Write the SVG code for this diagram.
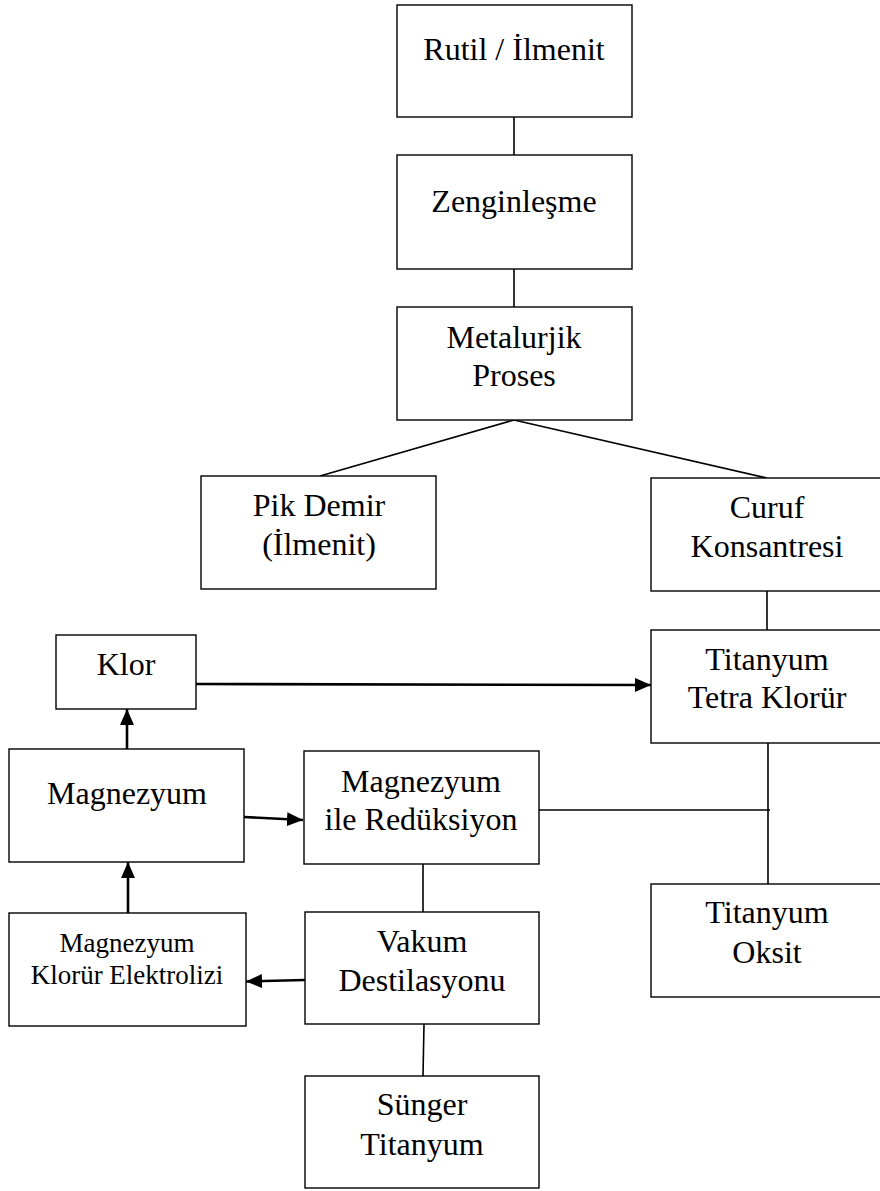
<svg xmlns="http://www.w3.org/2000/svg" width="880" height="1191" viewBox="0 0 880 1191">
<style>
.box{fill:#fff;stroke:#000;stroke-width:1.4}
text{font-family:'Liberation Serif','Times New Roman',serif;font-size:32px;text-anchor:middle;fill:#000}
text.s{font-size:27px}
.c{stroke:#000;stroke-width:1.6;fill:none}
.a{stroke:#000;stroke-width:2.6;fill:none;marker-end:url(#ah)}
</style>
<defs>
<marker id="ah" viewBox="0 0 16 14" refX="16" refY="7" markerWidth="16" markerHeight="14" markerUnits="userSpaceOnUse" orient="auto">
<path d="M0,0 L16,7 L0,14 Z" fill="#000"/>
</marker>
</defs>
<rect width="880" height="1191" fill="#fff"/>
<g id="connectors">
<line class="c" x1="514" y1="117" x2="514" y2="155"/>
<line class="c" x1="514" y1="269" x2="514" y2="307"/>
<line class="c" x1="514" y1="420" x2="320" y2="476"/>
<line class="c" x1="514" y1="420" x2="767" y2="478"/>
<line class="c" x1="767" y1="591" x2="767" y2="630"/>
<line class="c" x1="768" y1="743" x2="768" y2="884"/>
<line class="c" x1="539" y1="810" x2="770" y2="810"/>
<line class="c" x1="423" y1="864" x2="423" y2="912"/>
<line class="c" x1="424" y1="1024" x2="423" y2="1076"/>
<line class="a" x1="196" y1="684" x2="651" y2="685"/>
<line class="a" x1="244" y1="817" x2="303" y2="820"/>
<line class="a" x1="127" y1="749" x2="127" y2="709"/>
<line class="a" x1="128" y1="913" x2="128" y2="862"/>
<line class="a" x1="305" y1="980" x2="246" y2="981.5"/>
</g>
<g id="rutil"><rect class="box" x="397" y="5" width="235" height="112"/><text x="514" y="60">Rutil / İlmenit</text></g>
<g id="zenginlesme"><rect class="box" x="397" y="155" width="235" height="114"/><text x="514" y="212">Zenginleşme</text></g>
<g id="metalurjik"><rect class="box" x="397" y="307" width="235" height="113"/><text x="514" y="348">Metalurjik</text><text x="514" y="386">Proses</text></g>
<g id="pikdemir"><rect class="box" x="201" y="476" width="235" height="113"/><text x="319" y="516">Pik Demir</text><text x="319" y="555">(İlmenit)</text></g>
<g id="curuf"><rect class="box" x="651" y="478" width="232" height="113"/><text x="767" y="518">Curuf</text><text x="767" y="557">Konsantresi</text></g>
<g id="ttk"><rect class="box" x="651" y="630" width="232" height="113"/><text x="767" y="670">Titanyum</text><text x="767" y="708">Tetra Klorür</text></g>
<g id="klor"><rect class="box" x="56" y="635" width="140" height="74"/><text x="126" y="675">Klor</text></g>
<g id="magnezyum"><rect class="box" x="9" y="749" width="235" height="113"/><text x="127" y="804">Magnezyum</text></g>
<g id="reduksiyon"><rect class="box" x="304" y="751" width="235" height="113"/><text x="421" y="792">Magnezyum</text><text x="421" y="830">ile Redüksiyon</text></g>
<g id="oksit"><rect class="box" x="651" y="884" width="232" height="113"/><text x="767" y="923">Titanyum</text><text x="767" y="963">Oksit</text></g>
<g id="elektroliz"><rect class="box" x="9" y="913" width="237" height="113"/><text class="s" x="127" y="952">Magnezyum</text><text class="s" x="127" y="984">Klorür Elektrolizi</text></g>
<g id="vakum"><rect class="box" x="305" y="912" width="234" height="112"/><text x="422" y="952">Vakum</text><text x="422" y="991">Destilasyonu</text></g>
<g id="sunger"><rect class="box" x="305" y="1076" width="234" height="112"/><text x="422" y="1115">Sünger</text><text x="422" y="1155">Titanyum</text></g>
</svg>
